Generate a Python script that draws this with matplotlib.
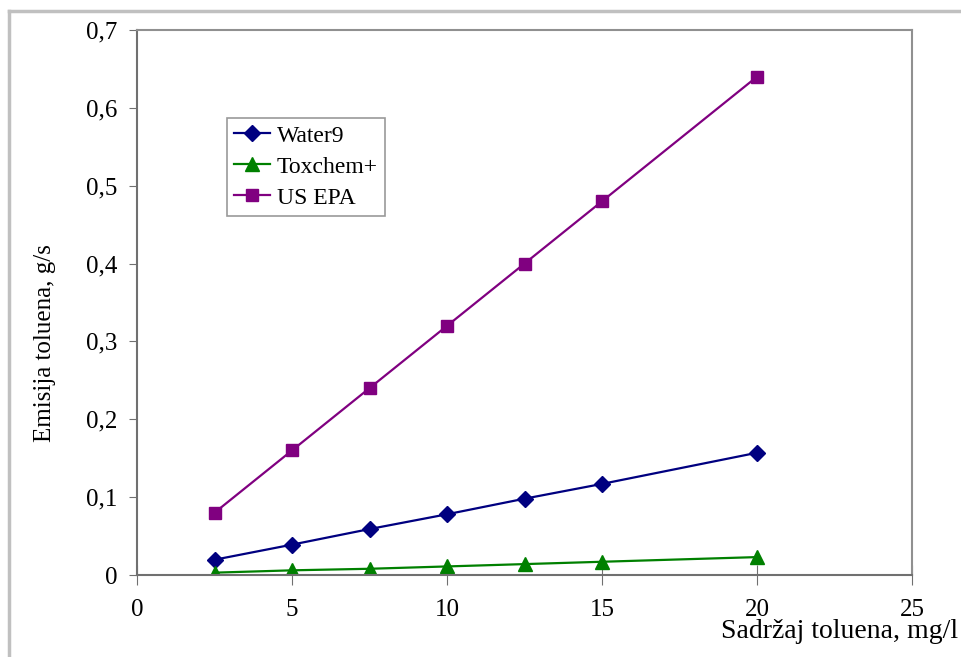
import matplotlib.pyplot as plt
from matplotlib.lines import Line2D

plt.rcParams['font.family'] = ['Liberation Serif', 'DejaVu Serif']

# 数据
sadrzaj = [2.5, 5, 7.5, 10, 12.5, 15, 20]
water9 = [0.0196, 0.039, 0.059, 0.078, 0.098, 0.117, 0.157]
toxchem = [0.003, 0.006, 0.008, 0.011, 0.014, 0.017, 0.023]
us_epa = [0.08, 0.16, 0.24, 0.32, 0.40, 0.48, 0.64]
x_ticks = [0, 5, 10, 15, 20, 25]
y_ticks = [0, 0.1, 0.2, 0.3, 0.4, 0.5, 0.6, 0.7]
y_labels = ['0', '0,1', '0,2', '0,3', '0,4', '0,5', '0,6', '0,7']

W, H = 962, 657
fig = plt.figure(figsize=(W / 100, H / 100), dpi=100)

# 外框（左、上）
fig.add_artist(Line2D([9 / W, 9 / W], [0, 1 - 11 / H], color='#c0c0c0', lw=2.5))
fig.add_artist(Line2D([9 / W, 1], [1 - 11 / H, 1 - 11 / H], color='#c0c0c0', lw=2.5))

ax = fig.add_axes([137 / W, 1 - 575 / H, (912 - 137) / W, (575 - 30) / H])

ax.plot(sadrzaj, water9, color='#000080', marker='D', markersize=8, lw=1.6, label='Water9')
ax.plot(sadrzaj, toxchem, color='#008000', marker='^', markersize=10, lw=1.6, label='Toxchem+')
ax.plot(sadrzaj, us_epa, color='#800080', marker='s', markersize=9, lw=1.6, label='US EPA')

ax.set_xlim(0, 25)
ax.set_ylim(0, 0.7)
ax.set_xticks(x_ticks)
ax.set_yticks(y_ticks)
ax.set_yticklabels(y_labels)
ax.tick_params(axis='y', direction='out', length=6, color='#707070', labelsize=18, pad=8)
ax.tick_params(axis='x', direction='inout', length=14, color='#707070', labelsize=18, pad=10)

for side in ['left', 'bottom']:
    ax.spines[side].set_color('#707070')
    ax.spines[side].set_linewidth(1.5)
for side in ['top', 'right']:
    ax.spines[side].set_color('#909090')
    ax.spines[side].set_linewidth(1.5)

fig.text(45 / W, 1 - 343 / H, 'Emisija toluena, g/s', rotation=90, fontsize=18,
         ha='center', va='center')
fig.text(958 / W, 1 - 632 / H, 'Sadržaj toluena, mg/l', fontsize=20,
         ha='right', va='center')

leg = ax.legend(loc='upper left', bbox_to_anchor=((227 - 137) / (912 - 137), (575 - 118) / (575 - 30)),
                fontsize=17, frameon=True, fancybox=False, borderpad=0.3,
                handlelength=1.5, handletextpad=0.3, labelspacing=0.4, borderaxespad=0)
leg.get_frame().set_edgecolor('#808080')
leg.get_frame().set_linewidth(1.2)

plt.savefig('out.png', dpi=100)
